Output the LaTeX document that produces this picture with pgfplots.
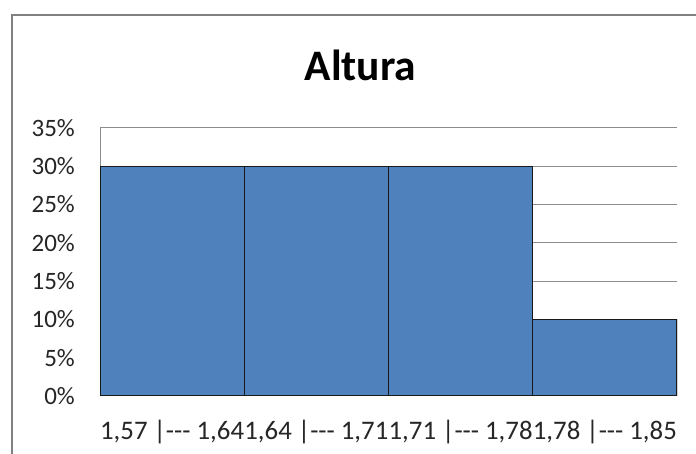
\documentclass[border=0pt]{standalone}
\usepackage{fontspec}
\setmainfont{Carlito}[Ligatures=TeXOff]
\usepackage{pgfplots}
\pgfplotsset{compat=1.18}
\definecolor{barblue}{HTML}{4F81BD}
\definecolor{gridgray}{HTML}{8C8C8C}
\definecolor{framegray}{HTML}{808080}
\begin{document}
\begin{tikzpicture}[x=1pt,y=1pt]
\clip (0,0) rectangle (696,454);
\fill[white] (0,0) rectangle (696,454);
\draw[framegray,line width=2.2pt] (12,-20) -- (12,439) -- (720,439);
\node[font=\fontsize{43.5}{50}\selectfont\bfseries, anchor=base, inner sep=0pt] at (360.5,373.3) {Altura};
\begin{axis}[
  at={(100pt,58pt)}, anchor=south west,
  scale only axis, width=577pt, height=268pt,
  xmin=0, xmax=4, ymin=0, ymax=35,
  axis x line=bottom, axis y line=left,
  axis line style={gridgray, line width=1pt, -},
  ytick={0,5,...,35},
  yticklabels={0\%,5\%,10\%,15\%,20\%,25\%,30\%,35\%},
  xtick={0.5,1.5,2.5,3.5},
  xticklabels={{1,57 |--- 1,64},{1,64 |--- 1,71},{1,71 |--- 1,78},{1,78 |--- 1,85}},
  ymajorgrids, grid style={gridgray, line width=1pt},
  major tick length=0pt,
  tick label style={font=\fontsize{25}{30}\selectfont, text=black!85, inner sep=0pt},
  yticklabel style={anchor=east, xshift=-25pt},
  xticklabel style={anchor=base, yshift=-44pt, font=\fontsize{26.8}{30}\selectfont},
  ybar, bar width=144.25pt,
]
\addplot[fill=barblue, draw=black!90, line width=1.2pt] coordinates {(0.5,30) (1.5,30) (2.5,30) (3.5,10)};
\end{axis}
\end{tikzpicture}
\end{document}
